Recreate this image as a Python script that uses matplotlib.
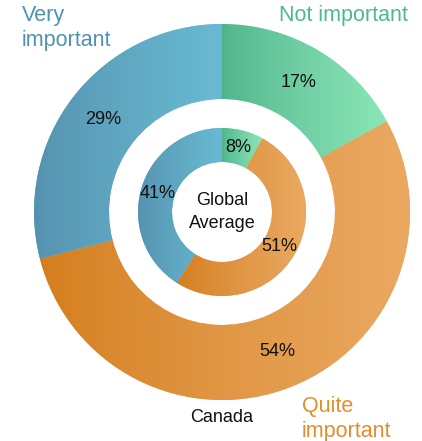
import numpy as np
import matplotlib
matplotlib.use("Agg")
import matplotlib.pyplot as plt
from matplotlib.colors import to_rgb

categories = ["Not important", "Quite important", "Very important"]
canada = [17, 54, 29]
global_avg = [8, 51, 41]
ring_names = ["Canada", "Global\nAverage"]

# gradient colours (left -> right) per category
grad_colors = {
    "Not important": ("#4fb38c", "#8ae6b6"),
    "Quite important": ("#d47d1c", "#eaa962"),
    "Very important": ("#5590ad", "#68bad2"),
}
label_colors = {
    "Not important": "#4dba8e",
    "Quite important": "#e38d2c",
    "Very important": "#4f93b0",
}

plt.rcParams['font.family'] = ['Liberation Sans', 'DejaVu Sans']

fig = plt.figure(figsize=(4.22, 4.41), dpi=100)
ax = fig.add_axes([0, 0, 1, 1])

R_out, W_out = 188, 75
R_in, W_in = 84, 34


def draw_ring(values, radius, width):
    wedges, texts, autotexts = ax.pie(
        values, radius=radius, startangle=90, counterclock=False,
        colors=[grad_colors[c][1] for c in categories],
        wedgeprops=dict(width=width, linewidth=0),
        autopct=lambda p: f"{p:.0f}%",
        pctdistance=(radius - width / 2) / radius,
        textprops=dict(fontsize=13, color="#111111"))
    for w, c in zip(wedges, categories):
        verts = w.get_path().vertices
        x0, x1 = verts[:, 0].min(), verts[:, 0].max()
        y0, y1 = verts[:, 1].min(), verts[:, 1].max()
        c0 = np.array(to_rgb(grad_colors[c][0]))
        c1 = np.array(to_rgb(grad_colors[c][1]))
        t = np.linspace(0, 1, 256)[None, :, None] ** 0.8
        img = c0 + (c1 - c0) * t
        img = np.repeat(img, 2, axis=0)
        im = ax.imshow(img, extent=(x0, x1, y0, y1), origin="lower",
                       interpolation="bilinear", zorder=1.5, aspect="auto")
        im.set_clip_path(w)
    for t in autotexts:
        t.set_zorder(3)
    return wedges


draw_ring(canada, R_out, W_out)
draw_ring(global_avg, R_in, W_in)

ax.text(0, 0, ring_names[1], ha="center", va="center", fontsize=13,
        color="#111111", linespacing=1.5, zorder=3)
ax.text(0, -206, ring_names[0], ha="center", va="center", fontsize=13,
        color="#111111", zorder=3)

ax.text(-200, 184, "Very\nimportant", ha="left", va="center", fontsize=15.5,
        color=label_colors["Very important"], linespacing=1.3)
ax.text(186, 197, "Not important", ha="right", va="center", fontsize=15.5,
        color=label_colors["Not important"])
ax.text(80, -207, "Quite\nimportant", ha="left", va="center", fontsize=15.5,
        color=label_colors["Quite important"], linespacing=1.3)

ax.set_xlim(-222, 200)
ax.set_ylim(-229, 212)
ax.set_aspect("equal")
ax.axis("off")

fig.savefig("out.png", dpi=100)
